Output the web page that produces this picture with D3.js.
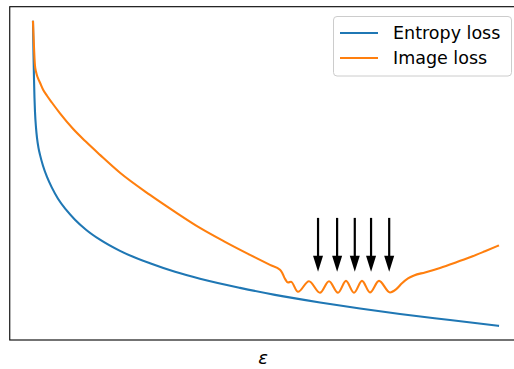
<!DOCTYPE html>
<html>
<head>
<meta charset="utf-8">
<script src="https://cdn.jsdelivr.net/npm/d3@7"></script>
<style>
  html, body { margin: 0; padding: 0; background: #fff; }
  svg { display: block; }
  text { font-family: "DejaVu Sans", sans-serif; }
</style>
</head>
<body>
<svg id="chart" width="514" height="369"></svg>
<script>
// Loss curves over epsilon (arbitrary units: epsilon 0..100, loss 0..100)
const entropyEps  = [0, 0.11, 0.22, 0.32, 0.43, 0.65, 0.86, 1.18, 1.51, 2.15, 3.01, 4.09, 5.38, 7.10, 9.03,
                     11.40, 14.41, 18.71, 25.16, 30.54, 35.91, 44.52, 52.04, 61.72, 70.32, 78.92, 89.68, 100];
const entropyLoss = [100, 89.1, 80.9, 74.9, 70.3, 65.0, 61.7, 58.4, 56.1, 52.5, 48.8, 45.2, 41.6, 38.0, 34.7,
                     31.4, 28.1, 24.4, 20.3, 17.5, 15.2, 12.2, 9.9, 7.4, 5.4, 3.6, 1.6, -0.3];

const imageEps  = [0, 0.11, 0.22, 0.32, 0.43, 0.54, 0.65, 0.86, 1.18, 1.51, 2.15, 3.01, 4.09, 5.81, 8.60,
                   11.40, 14.41, 18.71, 25.16, 30.54, 35.91, 41.29, 46.67, 50.97, 53.12,
                   53.55, 54.19, 54.84, 55.48, 56.99, 59.35, 61.72, 63.66, 65.59, 67.31, 69.03, 70.75,
                   72.47, 74.41, 76.77, 78.06, 79.35, 80.65, 81.94, 84.30, 87.53, 90.75, 93.98, 97.20, 100];
const imageLoss = [100, 95.4, 91.4, 88.0, 85.5, 84.3, 83.5, 82.3, 81.0, 79.9, 77.7, 75.6, 73.3, 69.8, 64.7,
                   60.4, 56.1, 50.2, 42.9, 37.3, 32.0, 27.4, 23.1, 19.8, 18.2,
                   17.3, 15.2, 14.0, 14.2, 10.9, 14.4, 10.6, 14.4, 10.6, 14.5, 10.6, 14.5,
                   10.7, 14.5, 10.7, 11.7, 13.7, 15.3, 16.3, 17.3, 18.8, 20.5, 22.3, 24.3, 26.1];

// Arrows pointing at the local minima of the image loss
const arrowEps  = [61.3, 65.4, 69.2, 72.7, 76.6];
const arrowFrom = [35.3, 35.3, 35.3, 35.3, 35.3];
const arrowTo   = [17.5, 17.5, 17.5, 17.5, 17.5];

const seriesNames  = ["Entropy loss", "Image loss"];
const seriesColors = ["#1f77b4", "#ff7f0e"];
const xLabel = "ε";

const svg = d3.select("#chart");

// Axes area with 5% data margins on each side
const x = d3.scaleLinear().domain([-5, 105]).range([9.75, 521.25]);
const y = d3.scaleLinear().domain([-5, 105]).range([340, 6.7]);

const series = [
  { name: seriesNames[0], color: seriesColors[0], pts: entropyEps.map((e, i) => [e, entropyLoss[i]]) },
  { name: seriesNames[1], color: seriesColors[1], pts: imageEps.map((e, i) => [e, imageLoss[i]]) }
];

const line = d3.line()
  .x(d => x(d[0]))
  .y(d => y(d[1]))
  .curve(d3.curveMonotoneX);

svg.append("g").selectAll("path")
  .data(series)
  .join("path")
  .attr("d", d => line(d.pts))
  .attr("fill", "none")
  .attr("stroke", d => d.color)
  .attr("stroke-width", 2.1)
  .attr("stroke-linejoin", "round")
  .attr("stroke-linecap", "square");

// Arrows: shaft plus triangular head
const arrows = svg.append("g");
arrowEps.forEach((e, i) => {
  const ax = x(e), y0 = y(arrowFrom[i]), y1 = y(arrowTo[i]);
  const headLen = 16, headHalf = 5;
  arrows.append("line")
    .attr("x1", ax).attr("x2", ax)
    .attr("y1", y0).attr("y2", y1 - headLen + 2)
    .attr("stroke", "#000").attr("stroke-width", 2.2);
  arrows.append("path")
    .attr("d", `M${ax - headHalf},${y1 - headLen} L${ax + headHalf},${y1 - headLen} L${ax},${y1} Z`)
    .attr("fill", "#000");
});

// Frame (spines); no ticks
const [xl, xr] = x.range();
const [yb, yt] = y.range();
svg.append("rect")
  .attr("x", xl).attr("y", yt)
  .attr("width", xr - xl).attr("height", yb - yt)
  .attr("fill", "none")
  .attr("stroke", "#000")
  .attr("stroke-width", 1.1);

// x-axis label
svg.append("text")
  .attr("x", 263)
  .attr("y", 363.5)
  .attr("text-anchor", "middle")
  .attr("font-size", 18)
  .attr("font-style", "italic")
  .text(xLabel);

// Legend
const legend = svg.append("g");
legend.append("rect")
  .attr("x", 333.5).attr("y", 16.5)
  .attr("width", 178).attr("height", 59.5)
  .attr("rx", 3.5)
  .attr("fill", "#fff").attr("fill-opacity", 0.8)
  .attr("stroke", "#cccccc").attr("stroke-width", 1);
series.forEach((s, i) => {
  const cy = 33 + i * 25;
  legend.append("line")
    .attr("x1", 340).attr("x2", 378)
    .attr("y1", cy).attr("y2", cy)
    .attr("stroke", s.color).attr("stroke-width", 2.1);
  legend.append("text")
    .attr("x", 393).attr("y", cy + 6)
    .attr("font-size", 17.5)
    .attr("fill", "#000")
    .text(s.name);
});
</script>
</body>
</html>
